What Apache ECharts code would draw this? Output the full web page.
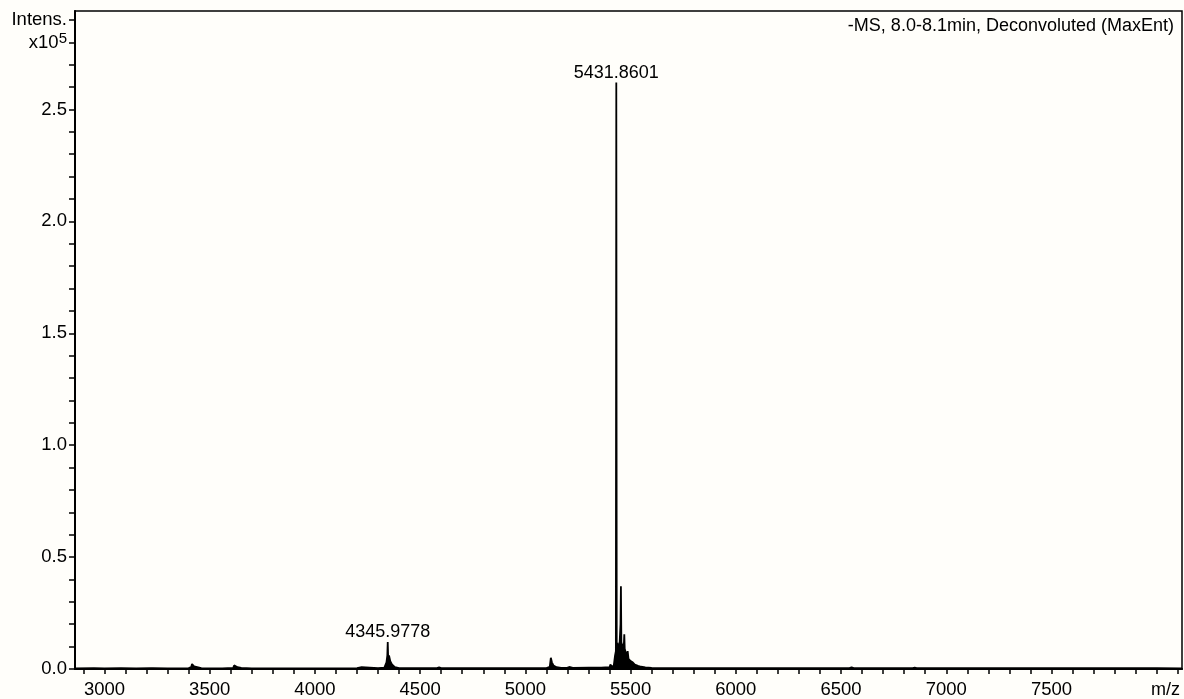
<!DOCTYPE html>
<html>
<head>
<meta charset="utf-8">
<script src="https://cdn.jsdelivr.net/npm/echarts@6/dist/echarts.min.js"></script>
<style>
html,body{margin:0;padding:0;background:#fffefa;}
#c{width:1184px;height:699px;}
</style>
</head>
<body>
<div id="c"></div>
<script>
// m/z values and intensities (x10^5)
const mz = [2860,2950,3000,3078,3082,3086,3150,3220,3224,3230,3300,3400,3412,3416,3420,3426,3434,3460,3560,3612,3616,3622,3632,3650,3700,3800,3900,4000,4100,4200,4222,4230,4300,4330,4340,4344,4346,4348,4352,4358,4366,4380,4400,4500,4580,4590,4600,4700,4800,4900,5000,5100,5116,5121,5126,5134,5148,5170,5200,5212,5225,5300,5360,5400,5404,5410,5420,5426,5430,5432,5434,5440,5448,5452,5454,5456,5462,5468,5470,5472,5478,5484,5486,5490,5500,5510,5520,5535,5550,5570,5600,5700,5800,6000,6200,6400,6540,6550,6560,6700,6840,6850,6860,7000,7200,7400,7600,7800,8000,8120];
const intensity = [0.003,0.004,0.003,0.004,0.012,0.004,0.003,0.004,0.010,0.004,0.003,0.004,0.008,0.022,0.020,0.012,0.006,0.004,0.003,0.005,0.016,0.012,0.008,0.005,0.003,0.003,0.003,0.003,0.003,0.004,0.008,0.004,0.004,0.006,0.030,0.060,0.120,0.050,0.060,0.035,0.020,0.008,0.004,0.004,0.004,0.007,0.004,0.004,0.004,0.004,0.004,0.004,0.010,0.050,0.030,0.015,0.008,0.005,0.006,0.009,0.005,0.006,0.006,0.008,0.020,0.010,0.015,0.060,0.080,2.620,0.120,0.100,0.120,0.200,0.370,0.120,0.100,0.110,0.155,0.090,0.070,0.060,0.080,0.045,0.035,0.030,0.020,0.014,0.010,0.007,0.005,0.004,0.004,0.004,0.004,0.004,0.004,0.008,0.004,0.004,0.004,0.006,0.004,0.004,0.004,0.004,0.004,0.004,0.004,0.003];

// axis ticks and labels
const xTickValues = [2900,3000,3100,3200,3300,3400,3500,3600,3700,3800,3900,4000,4100,4200,4300,4400,4500,4600,4700,4800,4900,5000,5100,5200,5300,5400,5500,5600,5700,5800,5900,6000,6100,6200,6300,6400,6500,6600,6700,6800,6900,7000,7100,7200,7300,7400,7500,7600,7700,7800,7900,8000,8100];
const xLabelValues = [3000,3500,4000,4500,5000,5500,6000,6500,7000,7500];
const yTickValues = [0,0.1,0.2,0.3,0.4,0.5,0.6,0.7,0.8,0.9,1.0,1.1,1.2,1.3,1.4,1.5,1.6,1.7,1.8,1.9,2.0,2.1,2.2,2.3,2.4,2.5,2.6,2.7,2.8,2.9];
const yLabelValues = [0,0.5,1.0,1.5,2.0,2.5,2.8,2.9];

// labelled peaks
const peakLabels = [[4346,0.12,'4345.9778'],[5432,2.62,'5431.8601']];

const title = '-MS, 8.0-8.1min, Deconvoluted (MaxEnt)';

const data = mz.map((m,i)=>[m,intensity[i]]);
const font = '"Liberation Sans", Arial, sans-serif';

const chart = echarts.init(document.getElementById('c'), null, {renderer:'canvas'});
chart.setOption({
  backgroundColor:'#fffefa',
  animation:false,
  title:{
    text:title, right:5, top:12,
    textStyle:{fontFamily:font, fontSize:18, fontWeight:'normal', color:'#000'}
  },
  grid:{left:75, right:2, top:11, bottom:26, show:true, borderColor:'#000', borderWidth:1.5, backgroundColor:'transparent'},
  xAxis:{
    type:'value', min:2860, max:8120,
    name:'m/z', nameLocation:'end', nameGap:-2,
    nameTextStyle:{fontFamily:font, fontSize:18, color:'#000', align:'right', verticalAlign:'top', padding:[12,0,0,0]},
    axisLine:{show:true, onZero:false, lineStyle:{color:'#000', width:2.2}},
    axisTick:{show:true, inside:false, length:5, customValues:xTickValues, lineStyle:{color:'#000', width:1.5}},
    axisLabel:{customValues:xLabelValues, margin:11, fontFamily:font, fontSize:18.5, color:'#000', formatter:v=>String(v)},
    splitLine:{show:false}
  },
  yAxis:{
    type:'value', min:0, max:2.94,
    axisLine:{show:true, lineStyle:{color:'#000', width:2}},
    axisTick:{show:true, length:6, customValues:yTickValues, lineStyle:{color:'#000', width:1.5}},
    axisLabel:{
      customValues:yLabelValues, margin:8, fontFamily:font, fontSize:18.5, color:'#000',
      formatter:function(v){
        if (Math.abs(v-2.9)<1e-6) return 'Intens.';
        if (Math.abs(v-2.8)<1e-6) return '{b|x10}{s|5}';
        return v.toFixed(1);
      },
      rich:{
        b:{fontFamily:font, fontSize:18.5, color:'#000', verticalAlign:'bottom'},
        s:{fontFamily:font, fontSize:15, color:'#000', verticalAlign:'top', padding:[0,0,6,0]}
      }
    },
    splitLine:{show:false}
  },
  series:[{
    type:'line', data:data, showSymbol:false, symbol:'none', smooth:false,
    lineStyle:{color:'#000', width:1.8},
    areaStyle:{color:'#000', opacity:1},
    markPoint:{
      symbol:'circle', symbolSize:0,
      label:{show:true, position:'top', distance:1, fontFamily:font, fontSize:18, color:'#000', formatter:p=>p.name},
      data:peakLabels.map(p=>({coord:[p[0],p[1]], name:p[2], value:p[2]}))
    }
  }]
});
</script>
</body>
</html>
